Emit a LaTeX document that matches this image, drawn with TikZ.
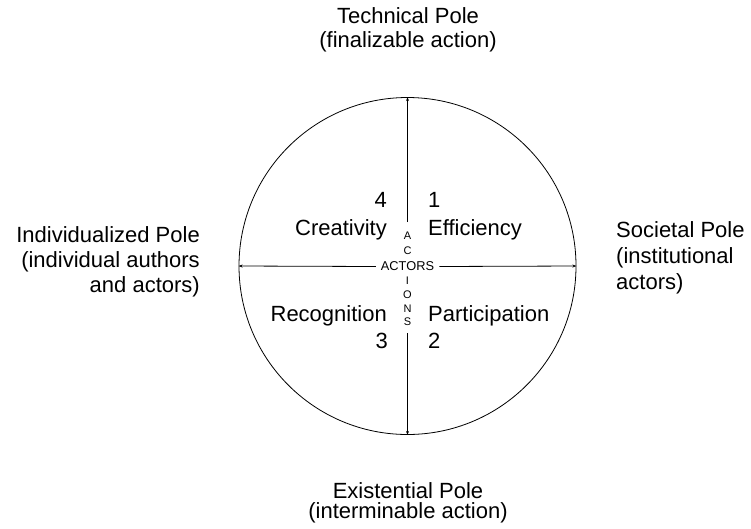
\documentclass[tikz,border=0pt]{standalone}
\usepackage{fontspec}
\setmainfont{Liberation Sans}
\usetikzlibrary{arrows.meta}
\begin{document}
\begin{tikzpicture}[x=1pt,y=-1pt,
  lbl/.style={inner sep=0pt,font=\fontsize{22}{25}\selectfont},
  axis/.style={line width=0.8pt,-{Stealth[length=4pt,width=3pt]}},
  vletters/.style={inner xsep=1pt,align=center},
]
\useasboundingbox (0,0) rectangle (751,528);
\node[circle,draw,line width=0.8pt,minimum size=337pt,inner sep=0pt] (c) at (407.5,266) {};
% center labels
\node[inner xsep=5pt,inner ysep=1pt,font=\fontsize{12.8}{14}\selectfont] (actors) at (407.5,266.5) {ACTORS};
\node[vletters,inner ysep=10pt,anchor=north,font=\fontsize{11}{15}\selectfont] (up) at (407.5,222) {A\\C};
\node[vletters,inner ysep=7pt,anchor=south,font=\fontsize{11}{13.7}\selectfont] (down) at (407.5,333) {I\\O\\N\\S};
% axes
\draw[axis] (up.north) -- (c.north);
\draw[axis] (down.south) -- (c.south);
\draw[axis] (actors.west) -- (c.west);
\draw[axis] (actors.east) -- (c.east);
% poles
\node[lbl,anchor=base] (t1) at (408,23) {Technical Pole};
\node[lbl,anchor=base] (t2) at (408,47) {(finalizable action)};
\node[lbl,anchor=base,align=center,font=\fontsize{22}{20}\selectfont] (b) at (408,518) {Existential Pole\\(interminable action)};
\node[lbl,anchor=base east] (l1) at (200,242) {Individualized Pole};
\node[lbl,anchor=base east] (l2) at (200,267) {(individual authors};
\node[lbl,anchor=base east] (l3) at (200,292) {and actors)};
\node[lbl,anchor=base west] (r1) at (616,237) {Societal Pole};
\node[lbl,anchor=base west] (r2) at (616,263) {(institutional};
\node[lbl,anchor=base west] (r3) at (616,289) {actors)};
% quadrants
\node[lbl,anchor=base east] (q4) at (387,207) {4};
\node[lbl,anchor=base east] (cre) at (387,235) {Creativity};
\node[lbl,anchor=base west] (q1) at (428,207) {1};
\node[lbl,anchor=base west] (eff) at (428,235) {Efficiency};
\node[lbl,anchor=base east] (rec) at (387,321) {Recognition};
\node[lbl,anchor=base east] (q3) at (388,348) {3};
\node[lbl,anchor=base west] (par) at (428,321) {Participation};
\node[lbl,anchor=base west] (q2) at (428,348) {2};
\end{tikzpicture}
\end{document}
